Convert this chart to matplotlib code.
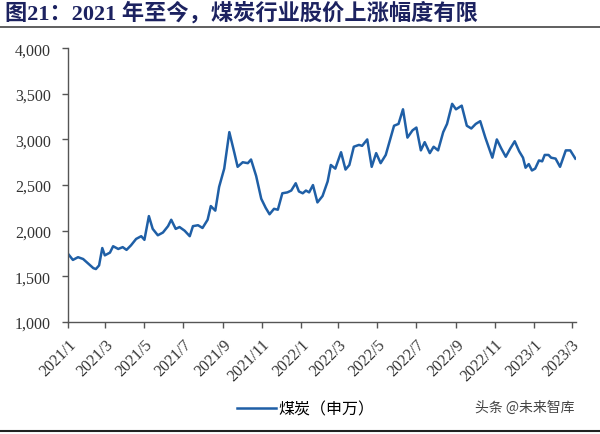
import pandas as pd
import matplotlib
matplotlib.use("Agg")
import matplotlib.pyplot as plt
from matplotlib.ticker import FuncFormatter

plt.rcParams['font.family'] = ['Noto Sans CJK SC', 'DejaVu Sans']

# 煤炭（申万）指数，按图读取的近似值
dates = [
    "2021-01-01", "2021-01-09", "2021-01-17", "2021-01-25", "2021-02-02", "2021-02-10",
    "2021-02-14", "2021-02-19", "2021-02-24", "2021-02-28", "2021-03-08", "2021-03-13",
    "2021-03-21", "2021-03-28", "2021-04-03", "2021-04-10", "2021-04-18", "2021-04-26",
    "2021-05-01", "2021-05-08", "2021-05-14", "2021-05-22", "2021-05-30", "2021-06-07",
    "2021-06-12", "2021-06-19", "2021-06-25", "2021-07-03", "2021-07-11", "2021-07-16",
    "2021-07-24", "2021-07-31", "2021-08-08", "2021-08-13", "2021-08-20", "2021-08-26",
    "2021-09-03", "2021-09-11", "2021-09-19", "2021-09-24", "2021-10-02", "2021-10-10",
    "2021-10-15", "2021-10-23", "2021-10-31", "2021-11-07", "2021-11-13", "2021-11-20",
    "2021-11-26", "2021-12-03", "2021-12-11", "2021-12-17", "2021-12-24", "2021-12-29",
    "2022-01-04", "2022-01-09", "2022-01-14", "2022-01-20", "2022-01-27", "2022-02-04",
    "2022-02-12", "2022-02-17", "2022-02-24", "2022-03-05", "2022-03-12", "2022-03-18",
    "2022-03-25", "2022-04-02", "2022-04-07", "2022-04-15", "2022-04-22", "2022-04-29",
    "2022-05-06", "2022-05-14", "2022-05-27", "2022-06-03", "2022-06-10", "2022-06-17",
    "2022-06-25", "2022-07-01", "2022-07-08", "2022-07-14", "2022-07-22", "2022-07-28",
    "2022-08-04", "2022-08-12", "2022-08-18", "2022-08-26", "2022-09-01", "2022-09-10",
    "2022-09-18", "2022-09-25", "2022-10-02", "2022-10-09", "2022-10-17", "2022-10-28",
    "2022-11-04", "2022-11-11", "2022-11-18", "2022-11-25", "2022-12-02", "2022-12-09",
    "2022-12-15", "2022-12-19", "2022-12-24", "2022-12-29", "2023-01-03", "2023-01-09",
    "2023-01-14", "2023-01-18", "2023-01-24", "2023-01-28", "2023-02-04", "2023-02-11",
    "2023-02-20", "2023-02-27", "2023-03-07",
]
coal = [
    1750, 1680, 1710, 1690, 1640, 1590,
    1580, 1620, 1810, 1730, 1760, 1830,
    1800, 1820, 1790, 1840, 1910, 1940,
    1900, 2160, 2020, 1950, 1980, 2050,
    2120, 2020, 2040, 2000, 1940, 2050,
    2060, 2030, 2120, 2270, 2220, 2480,
    2680, 3080, 2850, 2700, 2750, 2740,
    2780, 2600, 2350, 2250, 2180, 2240,
    2230, 2410, 2420, 2440, 2520, 2430,
    2410, 2440, 2420, 2500, 2310, 2380,
    2540, 2720, 2680, 2860, 2670, 2720,
    2920, 2940, 2930, 3000, 2700, 2850,
    2740, 2830, 3150, 3170, 3330, 3020,
    3100, 3130, 2880, 2970, 2850, 2920,
    2880, 3080, 3170, 3390, 3330, 3370,
    3150, 3120, 3170, 3200, 3020, 2800,
    3000, 2900, 2810, 2900, 2980, 2870,
    2800, 2690, 2730, 2660, 2680, 2770,
    2760, 2830, 2830, 2800, 2790, 2700,
    2880, 2880, 2790,
]
tick_months = ["2021/1", "2021/3", "2021/5", "2021/7", "2021/9", "2021/11",
               "2022/1", "2022/3", "2022/5", "2022/7", "2022/9", "2022/11",
               "2023/1", "2023/3"]

x = pd.to_datetime(dates)
ticks = pd.to_datetime([m + "/1" for m in tick_months], format="%Y/%m/%d")

fig = plt.figure(figsize=(6, 4.35), dpi=100)
ax = fig.add_axes([0.113, 0.2575, 0.847, 0.6295])

ax.plot(x, coal, color="#1f5fa6", lw=1.8, label="煤炭（申万）")

ax.set_ylim(1000, 4000)
ax.set_yticks(range(1000, 4001, 500))
ax.yaxis.set_major_formatter(FuncFormatter(lambda v, p: f"{int(v):,}"))
ax.set_xlim(pd.Timestamp("2021-01-01"), pd.Timestamp("2023-03-08"))
ax.set_xticks(ticks)
ax.set_xticklabels(tick_months, rotation=45, ha="right", rotation_mode="anchor")

for s in ["top", "right"]:
    ax.spines[s].set_visible(False)
for s in ["left", "bottom"]:
    ax.spines[s].set_color("#555555")
    ax.spines[s].set_linewidth(1.0)
ax.tick_params(colors="#555555", length=4, width=1.0)
ax.tick_params(axis="y", pad=8)
ax.tick_params(axis="x", pad=6)
for lab in ax.get_xticklabels() + ax.get_yticklabels():
    lab.set_fontfamily("Liberation Serif")
    lab.set_fontsize(11.5)
    lab.set_color("#333333")

fig.legend(loc="center", bbox_to_anchor=(0.51, 0.057), frameon=False,
           handlelength=2.4, handletextpad=0.2,
           prop={"family": ["Noto Sans CJK SC"], "size": 11.5})

# 标题与分隔线
fig.text(0.008, 0.969, "图21：2021 年至今，煤炭行业股价上涨幅度有限", fontsize=16,
         family=["Liberation Serif", "Noto Sans CJK SC"],
         fontweight="bold", color="#1c2260", va="center", ha="left")
fig.add_artist(plt.Line2D([0.0, 1.0], [0.935, 0.935], color="#444444", lw=1.2))
fig.add_artist(plt.Line2D([0.0, 1.0], [0.006, 0.006], color="#222222", lw=1.5))
fig.text(0.958, 0.062, "头条 @未来智库", fontsize=10, color="#444444", ha="right", va="center")

fig.savefig("out.png", dpi=100)
